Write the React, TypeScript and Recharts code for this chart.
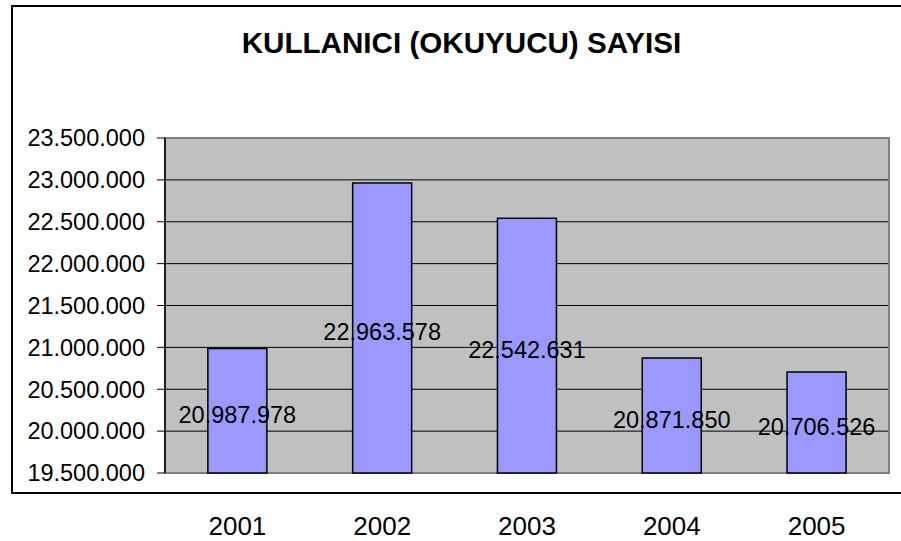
import { Bar, BarChart, CartesianGrid, LabelList, ReferenceArea, XAxis, YAxis } from 'recharts';

const years = ['2001', '2002', '2003', '2004', '2005'];
const readers = [20987978, 22963578, 22542631, 20871850, 20706526];
const yTicks = [19500000, 20000000, 20500000, 21000000, 21500000, 22000000, 22500000, 23000000, 23500000];

const rows = years.map((year, i) => ({ year, readers: readers[i] }));

const fmt = (n: number) => String(n).replace(/\B(?=(\d{3})+(?!\d))/g, '.');

const FONT = '"Liberation Sans", Arial, sans-serif';

function YearTick({ x, y, payload }: any) {
  return (
    <text x={x} y={y + 62} textAnchor="middle" fontFamily={FONT} fontSize={26} fill="#000">
      {payload.value}
    </text>
  );
}

export default function App() {
  return (
    <div style={{ position: 'absolute', left: 0, top: 0, width: 901, height: 541, overflow: 'hidden', background: '#fff' }}>
      <svg width={901} height={541} style={{ position: 'absolute', left: 0, top: 0 }}>
        <rect x={12} y={6} width={950} height={487} fill="none" stroke="#000" strokeWidth={2} />
        <text x={461.5} y={53} textAnchor="middle" fontFamily={FONT} fontWeight="bold" fontSize={29.6} fill="#000">
          KULLANICI (OKUYUCU) SAYISI
        </text>
      </svg>
      <div style={{ position: 'absolute', left: 0, top: 0 }}>
        <BarChart
          width={901}
          height={541}
          data={rows}
          margin={{ top: 138, right: 12, bottom: 38, left: 0 }}
          barCategoryGap="29.6%"
        >
          <CartesianGrid fill="#C0C0C0" vertical={false} stroke="#000" strokeOpacity={1} />
          <ReferenceArea y1={19500000} y2={23500000} fill="none" stroke="#808080" strokeWidth={2} />
          <XAxis
            dataKey="year"
            axisLine={false}
            tickLine={false}
            tickSize={0}
            tickMargin={0}
            tick={<YearTick />}
            interval={0}
          />
          <YAxis
            width={165}
            domain={[19500000, 23500000]}
            ticks={yTicks}
            tickFormatter={fmt}
            axisLine={{ stroke: '#000', strokeWidth: 1.5 }}
            tickLine={{ stroke: '#000' }}
            tickSize={8}
            tickMargin={12}
            tick={{ fill: '#000', fontSize: 23.5, fontFamily: FONT }}
            interval={0}
          />
          <Bar dataKey="readers" fill="#9999FF" stroke="#000" strokeWidth={1.5} isAnimationActive={false}>
            <LabelList
              dataKey="readers"
              position="center"
              formatter={(v: any) => fmt(Number(v))}
              fill="#000"
              fontSize={23.5}
              fontFamily={FONT}
              dy={4}
            />
          </Bar>
        </BarChart>
      </div>
    </div>
  );
}
